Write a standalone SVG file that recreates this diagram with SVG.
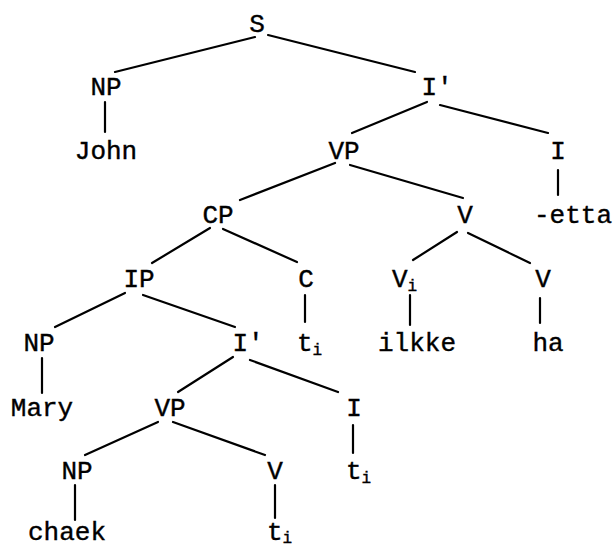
<svg xmlns="http://www.w3.org/2000/svg" width="615" height="549" viewBox="0 0 615 549">
<style>
text{font-family:"Liberation Mono","Courier New",monospace;font-size:26px;fill:#000;stroke:#000;stroke-width:0.4}
.m{text-anchor:middle}
.sub{font-size:16px}
#edges line{stroke:#000;stroke-width:2.2;stroke-linecap:round}
</style>
<rect width="615" height="549" fill="#fff"/>
<g id="edges">
<line x1="255" y1="37" x2="115" y2="72"/>
<line x1="268" y1="35" x2="415" y2="72"/>
<line x1="105" y1="102" x2="105" y2="132"/>
<line x1="427" y1="102" x2="352" y2="133"/>
<line x1="440" y1="105" x2="548" y2="133"/>
<line x1="335" y1="163" x2="240" y2="200"/>
<line x1="350" y1="165" x2="463" y2="198"/>
<line x1="558" y1="170" x2="558" y2="195"/>
<line x1="210" y1="228" x2="152" y2="263"/>
<line x1="223" y1="229" x2="297" y2="262"/>
<line x1="457" y1="232" x2="413" y2="260"/>
<line x1="468" y1="233" x2="530" y2="263"/>
<line x1="125" y1="293" x2="55" y2="327"/>
<line x1="143" y1="295" x2="235" y2="327"/>
<line x1="305" y1="295" x2="305" y2="322"/>
<line x1="410" y1="295" x2="410" y2="325"/>
<line x1="540" y1="298" x2="540" y2="323"/>
<line x1="42" y1="358" x2="42" y2="393"/>
<line x1="233" y1="357" x2="178" y2="392"/>
<line x1="250" y1="360" x2="338" y2="392"/>
<line x1="158" y1="422" x2="85" y2="455"/>
<line x1="173" y1="422" x2="265" y2="455"/>
<line x1="353" y1="425" x2="353" y2="453"/>
<line x1="75" y1="485" x2="75" y2="520"/>
<line x1="275" y1="485" x2="275" y2="518"/>
</g>
<g id="n_S"><text class="m" x="257" y="32">S</text></g>
<g id="n_NP1"><text class="m" x="106" y="95">NP</text></g>
<g id="n_John"><text class="m" x="106" y="159">John</text></g>
<g id="n_Ibar1"><text class="m" x="437" y="95">I'</text></g>
<g id="n_VP1"><text class="m" x="344" y="159">VP</text></g>
<g id="n_I1"><text class="m" x="558" y="159">I</text></g>
<g id="n_etta"><text class="m" x="573" y="223">-etta</text></g>
<g id="n_CP"><text class="m" x="218" y="223">CP</text></g>
<g id="n_V1"><text class="m" x="465" y="223">V</text></g>
<g id="n_IP"><text class="m" x="139" y="287">IP</text></g>
<g id="n_C"><text class="m" x="306" y="287">C</text></g>
<g id="n_Vi"><text x="392" y="287">V<tspan class="sub" dy="4">i</tspan></text></g>
<g id="n_V2"><text class="m" x="543" y="287">V</text></g>
<g id="n_NP2"><text class="m" x="39" y="351">NP</text></g>
<g id="n_Ibar2"><text class="m" x="248" y="351">I'</text></g>
<g id="n_t1"><text x="297" y="351">t<tspan class="sub" dy="4">i</tspan></text></g>
<g id="n_ilkke"><text class="m" x="417" y="351">ilkke</text></g>
<g id="n_ha"><text class="m" x="548" y="351">ha</text></g>
<g id="n_Mary"><text class="m" x="42" y="416">Mary</text></g>
<g id="n_VP2"><text class="m" x="170" y="416">VP</text></g>
<g id="n_I2"><text class="m" x="354" y="416">I</text></g>
<g id="n_NP3"><text class="m" x="77" y="479">NP</text></g>
<g id="n_V3"><text class="m" x="275" y="479">V</text></g>
<g id="n_t2"><text x="346" y="479">t<tspan class="sub" dy="4">i</tspan></text></g>
<g id="n_chaek"><text class="m" x="67" y="540">chaek</text></g>
<g id="n_t3"><text x="267" y="540">t<tspan class="sub" dy="3">i</tspan></text></g>
</svg>
